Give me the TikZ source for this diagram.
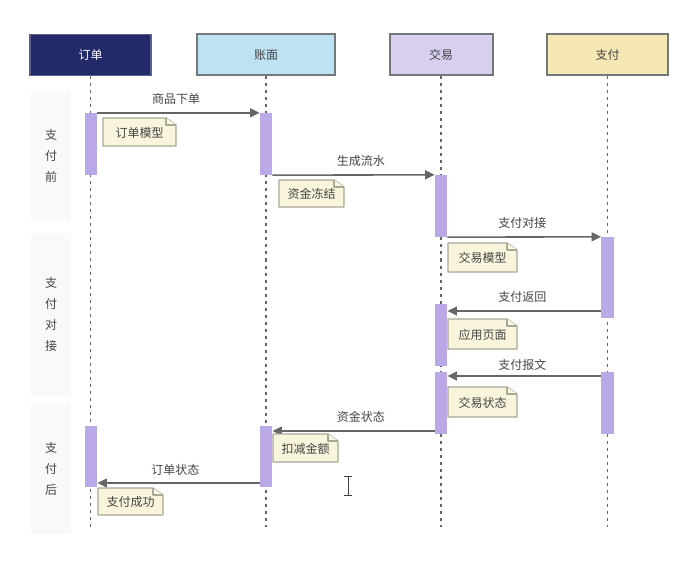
\documentclass[tikz,border=0pt]{standalone}
\usepackage{fontspec}
\setmainfont{Noto Sans CJK SC}
\usetikzlibrary{arrows.meta,positioning}

\definecolor{navyFill}{HTML}{232A69}
\definecolor{blueFill}{HTML}{BDE3F2}
\definecolor{lilacFill}{HTML}{D8CFF0}
\definecolor{sandFill}{HTML}{F5E8B4}
\definecolor{barFill}{HTML}{BAA9E6}
\definecolor{noteFill}{HTML}{F9F5DC}
\definecolor{noteEdge}{HTML}{A8A896}
\definecolor{headEdge}{HTML}{73797B}
\definecolor{lineGray}{HTML}{666666}
\definecolor{textGray}{HTML}{444444}
\definecolor{panelFill}{HTML}{F9F9F9}

\tikzset{
    headbox/.style = {draw=headEdge, line width=2pt, inner sep=0pt, text=textGray, font=\fontsize{12}{14}\selectfont},
    lifeline/.style = {draw=lineGray, line width=1.6pt, dash pattern=on 3pt off 4pt},
    actbar/.style = {fill=barFill, draw=none, minimum width=12.5pt, inner sep=0pt},
    msg/.style = {draw=lineGray, line width=1.6pt, -{Triangle[length=9.5pt,width=9pt]}},
    msglabel/.style = {text=textGray, font=\fontsize{12}{14}\selectfont, inner sep=0pt},
    panel/.style = {fill=panelFill, draw=none, minimum width=40pt, inner sep=0pt, text=textGray, align=center, font=\fontsize{12}{21}\selectfont},
    notetext/.style = {text=textGray, font=\fontsize{12}{14}\selectfont, inner sep=0pt},
    noteline/.style = {draw=noteEdge, fill=noteFill, line width=1.2pt, line join=round}
}

% note with a folded corner: name, left, top, right, bottom, text
\newcommand{\foldnote}[6]{
    \draw[noteline] (#2,#3) -- (#4-10,#3) -- (#4,#3+7) -- (#4,#5) -- (#2,#5) -- cycle;
    \draw[noteline, fill=noteFill!70!white] (#4-10,#3) -- (#4-10,#3+7) -- (#4,#3+7);
    \node[notetext] (#1) at ({(#2+#4)/2},{(#3+#5)/2+0.5}) {#6};
}

\begin{document}
\begin{tikzpicture}[x=1pt,y=-1pt]
    \useasboundingbox (0,0) rectangle (688,564);

    % phase panels on the left
    \node[panel, minimum height=130pt] (before) at (51,156) {支\\付\\前};
    \node[panel, minimum height=163pt] (during) at (51,314.5) {支\\付\\对\\接};
    \node[panel, minimum height=131pt] (after) at (51,468.5) {支\\付\\后};

    % header boxes
    \node[headbox, draw=navyFill!75!white, line width=1.2pt, fill=navyFill, text=white, minimum width=121pt, minimum height=41pt] (order) at (90.5,55) {订单};
    \node[headbox, fill=blueFill, minimum width=138pt, minimum height=41pt] (ledger) at (266,55) {账面};
    \node[headbox, fill=lilacFill, minimum width=103pt, minimum height=41pt] (trade) at (441,55) {交易};
    \node[headbox, fill=sandFill, minimum width=121pt, minimum height=41pt] (pay) at (607.5,55) {支付};

    % lower ends of the lifelines
    \coordinate (orderEnd) at (90.5,527);
    \coordinate (ledgerEnd) at (266,527);
    \coordinate (tradeEnd) at (441,527);
    \coordinate (payEnd) at (607.5,527);

    \draw[lifeline] (order) -- (orderEnd);
    \draw[lifeline] (ledger) -- (ledgerEnd);
    \draw[lifeline] (trade) -- (tradeEnd);
    \draw[lifeline] (pay) -- (payEnd);

    % activation bars
    \node[actbar, minimum height=62pt] (orderA) at (91,144) {};
    \node[actbar, minimum height=62pt] (ledgerA) at (266,144) {};
    \node[actbar, minimum height=62pt] (tradeA) at (441,206) {};
    \node[actbar, minimum height=81pt] (payA) at (607.5,277.5) {};
    \node[actbar, minimum height=62pt] (tradeB) at (441,335) {};
    \node[actbar, minimum height=62pt] (tradeC) at (441,403) {};
    \node[actbar, minimum height=62pt] (payB) at (607.5,403) {};
    \node[actbar, minimum height=61pt] (orderB) at (91,456.5) {};
    \node[actbar, minimum height=61pt] (ledgerB) at (266,456.5) {};

    % messages
    \draw[msg] (orderA.north east) -- (ledgerA.north west)
      node[msglabel, pos=0.485, above=8pt] (msgA) {商品下单};
    \draw[msg] (ledgerA.south east) -- (tradeA.north west)
      node[msglabel, pos=0.546, above=7.5pt] (msgB) {生成流水};
    \draw[msg] (tradeA.south east) -- (payA.north west)
      node[msglabel, pos=0.487, above=8pt] (msgC) {支付对接};

    \coordinate (backFrom) at (payA.west |- 0,311);
    \coordinate (backTo) at (tradeB.east |- 0,311);
    \draw[msg] (backFrom) -- (backTo)
      node[msglabel, pos=0.513, above=8pt] (msgD) {支付返回};

    \coordinate (slipFrom) at (payB.west |- 0,376);
    \coordinate (slipTo) at (tradeC.east |- 0,376);
    \draw[msg] (slipFrom) -- (slipTo)
      node[msglabel, pos=0.513, above=4.5pt] (msgE) {支付报文};

    \coordinate (fundFrom) at (tradeC.west |- 0,431);
    \coordinate (fundTo) at (ledgerB.east |- 0,431);
    \draw[msg] (fundFrom) -- (fundTo)
      node[msglabel, pos=0.454, above=7.5pt] (msgF) {资金状态};

    \coordinate (stateFrom) at (ledgerB.west |- 0,483);
    \coordinate (stateTo) at (orderB.east |- 0,483);
    \draw[msg] (stateFrom) -- (stateTo)
      node[msglabel, pos=0.519, above=6.5pt] (msgG) {订单状态};

    % notes
    \foldnote{noteA}{103}{118}{176}{146}{订单模型}
    \foldnote{noteB}{279}{180}{344}{207}{资金冻结}
    \foldnote{noteC}{448}{243}{517}{272}{交易模型}
    \foldnote{noteD}{448}{319}{517}{349}{应用页面}
    \foldnote{noteE}{448}{387}{517}{417}{交易状态}
    \foldnote{noteF}{273}{434}{338}{462}{扣减金额}
    \foldnote{noteG}{98}{488}{163}{515}{支付成功}

    % text cursor
    \draw[black!75, line width=0.9pt] (344,476) -- (352,476) (348,476) -- (348,495) (344,495) -- (352,495);
\end{tikzpicture}
\end{document}
